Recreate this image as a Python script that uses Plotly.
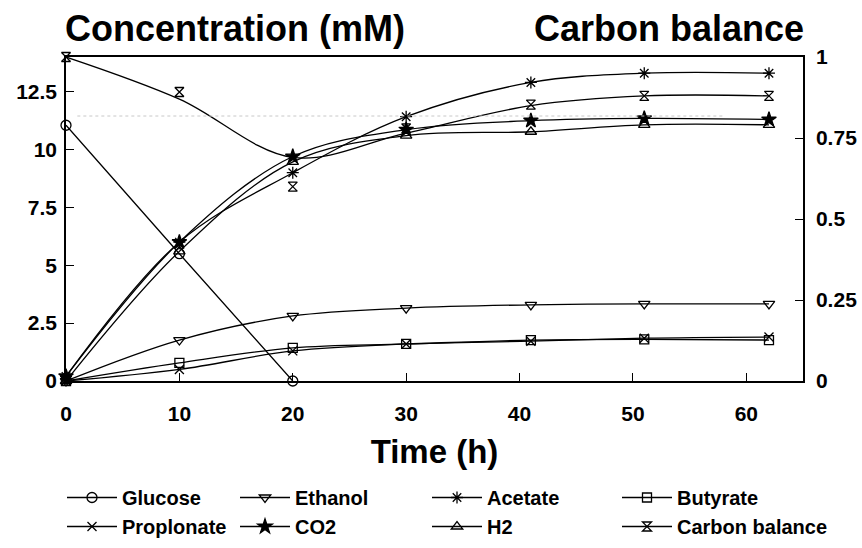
import plotly.graph_objects as go

# ---------------- data ----------------
time = [0, 10, 20, 30, 41, 51, 62]
glucose_time = [0, 10, 20]
glucose = [11.05, 5.5, 0.0]
ethanol = [0.0, 1.77, 2.81, 3.15, 3.29, 3.33, 3.33]
acetate = [0.2, 6.0, 9.0, 11.42, 12.9, 13.3, 13.3]
butyrate = [0.0, 0.78, 1.43, 1.6, 1.77, 1.8, 1.77]
propionate = [0.0, 0.5, 1.3, 1.6, 1.72, 1.85, 1.9]
co2 = [0.2, 6.0, 9.7, 10.86, 11.25, 11.35, 11.3]
h2 = [0.0, 5.6, 9.47, 10.6, 10.77, 11.07, 11.07]
carbon_balance = [1.0, 0.892, 0.60, 0.78, 0.853, 0.88, 0.88]
carbon_balance_fit = [1.0, 0.87, 0.69, 0.765, 0.85, 0.88, 0.88]

conc_ticks = [0, 2.5, 5, 7.5, 10, 12.5]
conc_ticktext = ["0", "2.5", "5", "7.5", "10", "12.5"]
cb_ticks = [0, 0.25, 0.5, 0.75, 1]
cb_ticktext = ["0", "0.25", "0.5", "0.75", "1"]
time_ticks = [0, 10, 20, 30, 40, 50, 60]

FONT = "Liberation Sans, Arial, Helvetica, sans-serif"
BLACK = "#000000"
LW = 1.3

fig = go.Figure()


def add_series(name, x, y, symbol, size, legend, shape="spline"):
    fig.add_trace(go.Scatter(
        x=x, y=y, name=name, mode="lines+markers", legend=legend,
        line=dict(color=BLACK, width=LW, shape=shape, smoothing=1.0),
        marker=dict(symbol=symbol, size=size, color=BLACK,
                    line=dict(color=BLACK, width=1.3)),
        cliponaxis=False,
    ))


add_series("Glucose", glucose_time, glucose, "circle-open", 10, "legend", shape="linear")
add_series("Ethanol", time, ethanol, "triangle-down-open", 10, "legend2")
add_series("Acetate", time, acetate, "asterisk-open", 10, "legend3")
add_series("Butyrate", time, butyrate, "square-open", 9, "legend4")
add_series("Proplonate", time, propionate, "x-thin-open", 9, "legend")
add_series("CO2", time, co2, "star", 11, "legend2")
add_series("H2", time, h2, "triangle-up-open", 10, "legend3")

# carbon balance: fitted curve + observed markers (right axis)
fig.add_trace(go.Scatter(
    x=time, y=carbon_balance_fit, mode="lines", yaxis="y2", showlegend=False,
    line=dict(color=BLACK, width=LW, shape="spline", smoothing=1.0),
    hoverinfo="skip",
))
fig.add_trace(go.Scatter(
    x=time, y=carbon_balance, mode="markers", yaxis="y2", showlegend=False,
    marker=dict(symbol="hourglass-open", size=9, color=BLACK,
                line=dict(color=BLACK, width=1.3)),
    cliponaxis=False,
))
# legend entry for carbon balance (line + marker)
fig.add_trace(go.Scatter(
    x=[None], y=[None], mode="lines+markers", name="Carbon balance",
    yaxis="y2", legend="legend4",
    line=dict(color=BLACK, width=LW),
    marker=dict(symbol="hourglass-open", size=9, color=BLACK,
                line=dict(color=BLACK, width=1.3)),
))

# faint dotted scan line seen across the reference plot
fig.add_shape(type="line", xref="x", yref="y", x0=1, x1=58, y0=11.45, y1=11.45,
              line=dict(color="#c8c8c8", width=1, dash="dot"))

axis_common = dict(
    showline=True, linecolor=BLACK, linewidth=1.5,
    ticks="inside", ticklen=8, tickwidth=1.2, tickcolor=BLACK,
    showgrid=False, zeroline=False,
    tickfont=dict(family=FONT, size=21, color=BLACK, weight="bold"),
)

legend_cols = [62, 235, 427, 617]


def legend_at(xpx):
    return dict(orientation="v", xref="container", yref="container",
                x=xpx / 862, y=1 - 478 / 548, xanchor="left", yanchor="top",
                traceorder="normal", itemwidth=50,
                font=dict(family=FONT, size=20, color=BLACK, weight="bold"),
                bgcolor="rgba(0,0,0,0)")


fig.update_layout(
    width=862, height=548,
    margin=dict(l=66, r=59, t=57, b=167, autoexpand=False),
    paper_bgcolor="white", plot_bgcolor="white",
    font=dict(family=FONT, color=BLACK, weight="bold"),
    xaxis=dict(range=[0, 65], tickvals=time_ticks, mirror=True,
               ticklabelstandoff=13,
               title=dict(text="Time (h)", standoff=16,
                          font=dict(family=FONT, size=33, color=BLACK, weight="bold")),
               **axis_common),
    yaxis=dict(range=[0, 14], tickvals=conc_ticks, ticktext=conc_ticktext,
               ticklabelstandoff=3, **axis_common),
    yaxis2=dict(range=[0, 1.0], tickvals=cb_ticks, ticktext=cb_ticktext,
                overlaying="y", side="right", ticklabelstandoff=7, **axis_common),
    legend=legend_at(legend_cols[0]),
    legend2=legend_at(legend_cols[1]),
    legend3=legend_at(legend_cols[2]),
    legend4=legend_at(legend_cols[3]),
    annotations=[
        dict(text="Concentration (mM)", xref="paper", yref="paper",
             x=-3 / 737, y=1 + 29 / 324, xanchor="left", yanchor="middle", showarrow=False,
             font=dict(family=FONT, size=36, color=BLACK, weight="bold")),
        dict(text="Carbon balance", xref="paper", yref="paper",
             x=1 + 3 / 737, y=1 + 29 / 324, xanchor="right", yanchor="middle",
             showarrow=False,
             font=dict(family=FONT, size=36, color=BLACK, weight="bold")),
    ],
)

fig.write_html("out.html")
